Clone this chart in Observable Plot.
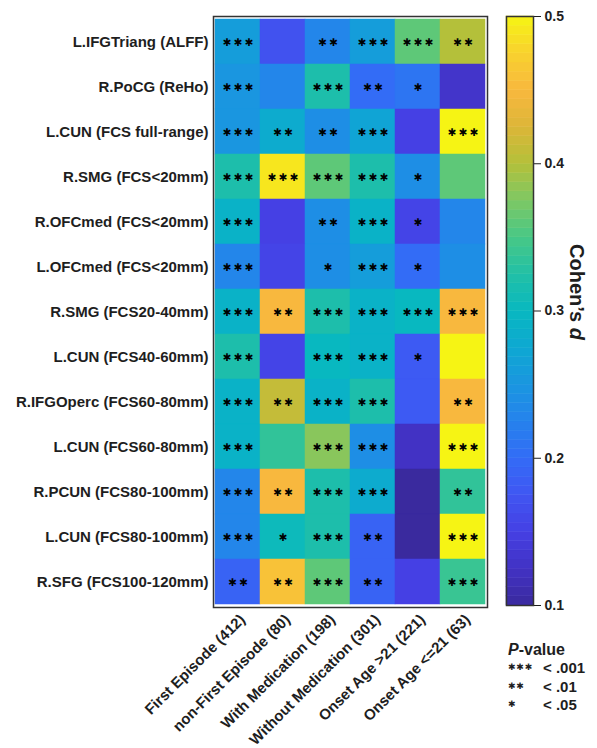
<!DOCTYPE html>
<html><head><meta charset="utf-8">
<script src="https://cdn.jsdelivr.net/npm/d3@7"></script>
<script src="https://cdn.jsdelivr.net/npm/@observablehq/plot@0.6"></script>
<style>
body{margin:0;background:#fff;font-family:"Liberation Sans",Arial,sans-serif;}
#wrap{position:relative;width:597px;height:748px;}
#wrap svg{position:absolute;left:0;top:0;}
.lbl{position:absolute;font-weight:bold;color:#1e1e1e;white-space:nowrap;line-height:1;}
.st{font-family:"DejaVu Sans";font-size:9px;letter-spacing:0.8px;}
</style></head><body><div id="wrap"></div>
<script>
const regions = [
  "L.IFGTriang (ALFF)", "R.PoCG (ReHo)", "L.CUN (FCS full-range)", "R.SMG (FCS<20mm)",
  "R.OFCmed (FCS<20mm)", "L.OFCmed (FCS<20mm)", "R.SMG (FCS20-40mm)", "L.CUN (FCS40-60mm)",
  "R.IFGOperc (FCS60-80mm)", "L.CUN (FCS60-80mm)", "R.PCUN (FCS80-100mm)", "L.CUN (FCS80-100mm)",
  "R.SFG (FCS100-120mm)"
];
const groups = [
  "First Episode (412)", "non-First Episode (80)", "With Medication (198)",
  "Without Medication (301)", "Onset Age >21 (221)", "Onset Age <=21 (63)"
];
// Cohen's d per region (rows) x group (columns)
const cohenD = [
  [0.26, 0.17, 0.23, 0.26, 0.36, 0.40],
  [0.25, 0.23, 0.32, 0.20, 0.21, 0.13],
  [0.25, 0.28, 0.24, 0.27, 0.15, 0.50],
  [0.32, 0.49, 0.36, 0.32, 0.24, 0.36],
  [0.29, 0.15, 0.24, 0.29, 0.155, 0.23],
  [0.23, 0.155, 0.24, 0.26, 0.20, 0.24],
  [0.29, 0.45, 0.32, 0.29, 0.30, 0.45],
  [0.32, 0.155, 0.30, 0.29, 0.18, 0.50],
  [0.29, 0.41, 0.29, 0.32, 0.18, 0.45],
  [0.29, 0.335, 0.38, 0.24, 0.125, 0.50],
  [0.23, 0.45, 0.32, 0.28, 0.10, 0.335],
  [0.23, 0.305, 0.32, 0.19, 0.10, 0.50],
  [0.19, 0.46, 0.36, 0.19, 0.15, 0.34]
];
// significance stars (0 = none, 1 = *, 2 = **, 3 = ***)
const stars = [
  [3, 0, 2, 3, 3, 2],
  [3, 0, 3, 2, 1, 0],
  [3, 2, 2, 3, 0, 3],
  [3, 3, 3, 3, 1, 0],
  [3, 0, 2, 3, 1, 0],
  [3, 0, 1, 3, 1, 0],
  [3, 2, 3, 3, 3, 3],
  [3, 0, 3, 3, 1, 0],
  [3, 2, 3, 3, 0, 2],
  [3, 0, 3, 3, 0, 3],
  [3, 2, 3, 3, 0, 2],
  [3, 1, 3, 2, 0, 3],
  [2, 2, 3, 2, 0, 3]
];
const pLegend = [[3, "< .001"], [2, "< .01"], [1, "< .05"]];
const cbTicks = [0.1, 0.2, 0.3, 0.4, 0.5];
const colorValues = [0.1, 0.125, 0.15, 0.175, 0.2, 0.225, 0.25, 0.275, 0.3, 0.325, 0.35, 0.375, 0.4, 0.425, 0.45, 0.475, 0.5];
const colorStops = ["#3A2A9E", "#4232C4", "#4540E4", "#4056F2", "#336CF6", "#2582EC", "#1A96E0", "#0EA8D2",
  "#08B8C0", "#22C0A6", "#48C886", "#7EC864", "#B4C03A", "#DCB638", "#F8B83E", "#F8D22E", "#F6F414"];

const cells = regions.flatMap((r, i) => groups.map((g, j) => ({region: r, group: g, d: cohenD[i][j], n: stars[i][j]})));
const colorScale = {type: "linear", domain: colorValues, range: colorStops, clamp: true};
const font = "Liberation Sans, Arial, sans-serif";

const heat = Plot.plot({
  width: 597, height: 748, marginLeft: 213, marginRight: 110, marginTop: 16, marginBottom: 141,
  style: {fontFamily: font, fontSize: "15px", fontWeight: "bold", color: "#1e1e1e", background: "transparent"},
  x: {domain: groups, padding: 0, axis: null},
  y: {domain: regions, padding: 0, tickSize: 0, tickPadding: 5, label: null},
  color: colorScale,
  marks: [
    Plot.cell(cells, {x: "group", y: "region", fill: "d", stroke: "d", strokeWidth: 0.5}),
    Plot.text(cells.filter(c => c.n > 0), {x: "group", y: "region", text: c => "✱".repeat(c.n), fontFamily: "DejaVu Sans", fontSize: 10.5, fill: "#000", dx: 1.2, dy: 0.5}),
    Plot.text(groups, {x: d => d, frameAnchor: "bottom", text: d => d, rotate: -45, textAnchor: "end", dx: 8, dy: 13, fontSize: 15}),
    Plot.frame({stroke: "#333", strokeWidth: 1.5})
  ]
});
heat.querySelectorAll("text").forEach(t => { if (t.textContent.includes("✱")) t.setAttribute("letter-spacing", "2.2px"); });

const nSteps = 64;
const bands = d3.range(nSteps).map(i => ({y1: 0.1 + i * 0.4 / nSteps, y2: 0.1 + (i + 1) * 0.4 / nSteps}));
const cbar = Plot.plot({
  width: 597, height: 748, marginLeft: 506, marginRight: 64, marginTop: 16, marginBottom: 143,
  style: {fontFamily: font, fontSize: "14px", fontWeight: "bold", color: "#1e1e1e", background: "transparent"},
  x: {domain: [0, 1], axis: null},
  y: {domain: [0.1, 0.5], axis: "right", ticks: cbTicks, tickFormat: ".1f", tickSize: 7, tickPadding: 4, label: null},
  color: colorScale,
  marks: [
    Plot.rect(bands, {x1: 0, x2: 1, y1: "y1", y2: "y2", fill: d => (d.y1 + d.y2) / 2, stroke: d => (d.y1 + d.y2) / 2, strokeWidth: 0.5}),
    Plot.frame({stroke: "#333", strokeWidth: 1.5})
  ]
});

const wrap = document.getElementById("wrap");
wrap.appendChild(heat);
wrap.appendChild(cbar);

const cl = document.createElement("div");
cl.className = "lbl";
cl.style.cssText = "left:567px;top:244px;font-size:20px;writing-mode:vertical-rl;";
cl.innerHTML = "Cohen’s <i>d</i>";
wrap.appendChild(cl);

const pv = document.createElement("div");
pv.className = "lbl";
pv.style.cssText = "left:508px;top:642px;font-size:16px;";
pv.innerHTML = "<i>P</i>-value";
wrap.appendChild(pv);
pLegend.forEach(([n, txt], i) => {
  const s = document.createElement("div");
  s.className = "lbl st";
  s.style.cssText += `left:508px;top:${663 + i * 18.5}px;`;
  s.textContent = "✱".repeat(n);
  wrap.appendChild(s);
  const t = document.createElement("div");
  t.className = "lbl";
  t.style.cssText = `left:543px;top:${660 + i * 18.5}px;font-size:15px;`;
  t.textContent = txt;
  wrap.appendChild(t);
});
</script></body></html>
